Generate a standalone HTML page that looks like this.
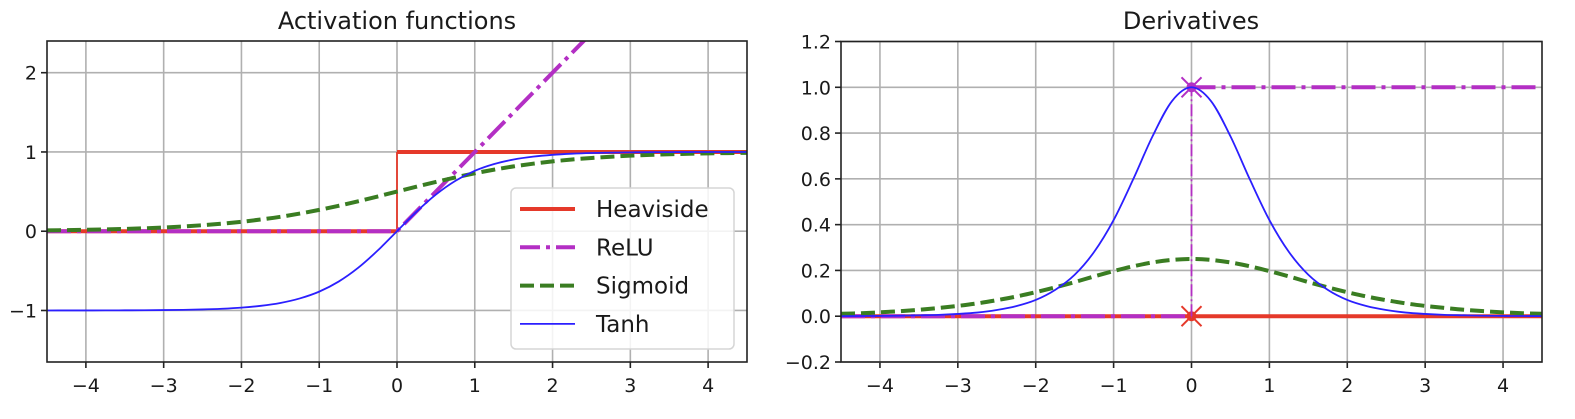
<!DOCTYPE html>
<html><head><meta charset="utf-8"><style>
html,body{margin:0;padding:0;background:#fff}
svg{display:block}
text{font-family:"DejaVu Sans","Liberation Sans",sans-serif;fill:#1a1a1a}
</style></head><body>
<svg id="fig" width="1575" height="419" viewBox="0 0 1575 419" xmlns="http://www.w3.org/2000/svg"></svg>
<script>
const xs = [-4.5,-4.25,-4,-3.75,-3.5,-3.25,-3,-2.75,-2.5,-2.25,-2,-1.75,-1.5,-1.25,-1,-0.75,-0.5,-0.25,0,0.25,0.5,0.75,1,1.25,1.5,1.75,2,2.25,2.5,2.75,3,3.25,3.5,3.75,4,4.25,4.5];
const tanhVals = [-0.9998,-0.9996,-0.9993,-0.999,-0.998,-0.997,-0.995,-0.992,-0.987,-0.978,-0.964,-0.941,-0.905,-0.848,-0.762,-0.635,-0.462,-0.245,0,0.245,0.462,0.635,0.762,0.848,0.905,0.941,0.964,0.978,0.987,0.992,0.995,0.997,0.998,0.999,0.9993,0.9996,0.9998];
const sigVals = [0.011,0.014,0.018,0.023,0.029,0.037,0.047,0.060,0.076,0.095,0.119,0.148,0.182,0.223,0.269,0.321,0.378,0.438,0.5,0.562,0.622,0.679,0.731,0.777,0.818,0.852,0.881,0.905,0.924,0.940,0.953,0.963,0.971,0.977,0.982,0.986,0.989];
const tanhDer = [0.0005,0.0008,0.0013,0.002,0.004,0.006,0.010,0.016,0.027,0.044,0.071,0.115,0.181,0.281,0.420,0.597,0.786,0.940,1,0.940,0.786,0.597,0.420,0.281,0.181,0.115,0.071,0.044,0.027,0.016,0.010,0.006,0.004,0.002,0.0013,0.0008,0.0005];
const sigDer = [0.011,0.013,0.017,0.022,0.028,0.036,0.045,0.056,0.070,0.086,0.105,0.126,0.149,0.174,0.197,0.218,0.235,0.246,0.25,0.246,0.235,0.218,0.197,0.174,0.149,0.126,0.105,0.086,0.070,0.056,0.045,0.036,0.028,0.022,0.017,0.013,0.011];
const xTicks = [-4,-3,-2,-1,0,1,2,3,4];
const yTicksL = [-1,0,1,2];
const yTicksR = [-0.2,0,0.2,0.4,0.6,0.8,1.0,1.2];
const reluX = [-4.5,0,4.5];
const reluY = [0,0,4.5];
const heaviX = [-4.5,0,0,4.5];
const heaviY = [0,0,1,1];
const legendLabels = ["Heaviside","ReLU","Sigmoid","Tanh"];

const NS="http://www.w3.org/2000/svg";
const svg=document.getElementById('fig');
const RED="#e5392a",MAG="#b32fc4",GRN="#3a7d22",BLU="#2b1fff";
function el(tag,attrs,parent){const e=document.createElementNS(NS,tag);for(const k in attrs)e.setAttribute(k,attrs[k]);(parent||svg).appendChild(e);return e;}
function minus(v,dec){let s=v.toFixed(dec);return s.replace('-','\u2212');}
function makeAxes(L,R,T,B,x0,x1,y0,y1,name){
  const sx=v=>L+(v-x0)/(x1-x0)*(R-L), sy=v=>B-(v-y0)/(y1-y0)*(B-T);
  const g=el('g',{});
  
  
  const cid='clip-'+name;
  const cp=el('clipPath',{id:cid},g);el('rect',{x:L,y:T,width:R-L,height:B-T},cp);
  return {sx,sy,g,L,R,T,B,clip:'url(#'+cid+')'};
}
function grid(ax,yt,dec,nm){
  const gg=el('g',{},ax.g);
  
  
  xTicks.forEach(t=>{const x=ax.sx(t);
    el('line',{x1:x,x2:x,y1:ax.T,y2:ax.B,stroke:'#b0b0b0','stroke-width':1.6},gg);
    el('line',{x1:x,x2:x,y1:ax.B,y2:ax.B+6,stroke:'#222','stroke-width':1.6},gg);
    const tx=el('text',{x:x,y:ax.B+30,'text-anchor':'middle','font-size':19},ax.g);
    
    
    tx.textContent=minus(t,0);});
  yt.forEach(t=>{const y=ax.sy(t);
    el('line',{x1:ax.L,x2:ax.R,y1:y,y2:y,stroke:'#b0b0b0','stroke-width':1.6},gg);
    el('line',{x1:ax.L-6,x2:ax.L,y1:y,y2:y,stroke:'#222','stroke-width':1.6},gg);
    const tx=el('text',{x:ax.L-10,y:y+7,'text-anchor':'end','font-size':19},ax.g);
    
    
    tx.textContent=minus(t,dec);});
}
function smooth(ax,X,Y){
  const p=X.map((x,i)=>[ax.sx(x),ax.sy(Y[i])]);
  let d='M'+p[0][0]+','+p[0][1];
  for(let i=0;i<p.length-1;i++){
    const a=p[Math.max(0,i-1)],b=p[i],c=p[i+1],e=p[Math.min(p.length-1,i+2)];
    const c1=[b[0]+(c[0]-a[0])/6,b[1]+(c[1]-a[1])/6],c2=[c[0]-(e[0]-b[0])/6,c[1]-(e[1]-b[1])/6];
    d+=' C'+c1+' '+c2+' '+c;
  }
  return d;
}
function poly(ax,X,Y){return X.map((x,i)=>(i?'L':'M')+ax.sx(x)+','+ax.sy(Y[i])).join(' ');}
function path(ax,d,stroke,w,dash,nm){
  const p=el('path',{d:d,fill:'none',stroke:stroke,'stroke-width':w,'clip-path':ax.clip,'stroke-linejoin':'round'},ax.g);
  if(dash)p.setAttribute('stroke-dasharray',dash);
  
  
  return p;
}
function frame(ax,title,cx){
  el('rect',{x:ax.L,y:ax.T,width:ax.R-ax.L,height:ax.B-ax.T,fill:'none',stroke:'#222','stroke-width':1.6},ax.g);
  const t=el('text',{x:cx,y:29,'text-anchor':'middle','font-size':24},ax.g);
  
  
  t.textContent=title;
}
function xmark(ax,x,y,c,nm){
  const X=ax.sx(x),Y=ax.sy(y),s=10;
  const g=el('g',{},ax.g);
  
  
  el('circle',{cx:X,cy:Y,r:5,fill:c},g);
  el('path',{d:`M${X-s},${Y-s}L${X+s},${Y+s}M${X-s},${Y+s}L${X+s},${Y-s}`,stroke:c,'stroke-width':2},g);
}
const DASH='14,6', DASHDOT='24,6,4,6';
// Left
const A=makeAxes(47,747,41,362,-4.5,4.5,-1.65,2.4,'activation-plot');
grid(A,yTicksL,0,'activation');
path(A,poly(A,heaviX.slice(0,2),heaviY.slice(0,2)),RED,4,null,'heaviside-line-left');
path(A,poly(A,heaviX.slice(1,3),heaviY.slice(1,3)),RED,1.8,null,'heaviside-step');
path(A,poly(A,heaviX.slice(2),heaviY.slice(2)),RED,4,null,'heaviside-line-right');
path(A,poly(A,reluX,reluY),MAG,4,DASHDOT,'relu-line');
path(A,smooth(A,xs,sigVals),GRN,4,DASH,'sigmoid-line');
path(A,smooth(A,xs,tanhVals),BLU,1.8,null,'tanh-line');
frame(A,'Activation functions',397);
// legend
const lg=el('g',{},A.g);


el('rect',{x:511,y:188,width:223,height:161,rx:5,fill:'#fff','fill-opacity':0.85,stroke:'#d5d5d5','stroke-width':1.5},lg);
const lc=[[RED,null,4],[MAG,DASHDOT,4],[GRN,DASH,4],[BLU,null,1.8]];
legendLabels.forEach((lab,i)=>{const y=209+i*38.3;
  const e=el('g',{},lg);
  
  
  const l=el('line',{x1:520,x2:575,y1:y,y2:y,stroke:lc[i][0],'stroke-width':lc[i][2]},e);
  if(lc[i][1])l.setAttribute('stroke-dasharray',lc[i][1]==DASH?'14,6':'20,6,4,6');
  const t=el('text',{x:596,y:y+8,'font-size':23},e);t.textContent=lab;});
// Right
const B=makeAxes(841,1542,41.5,362,-4.5,4.5,-0.2,1.2,'derivatives-plot');
grid(B,yTicksR,1,'derivatives');
path(B,poly(B,[-4.5,4.5],[0,0]),RED,4,null,'heaviside-derivative');
xmark(B,0,0,RED,'heaviside-marker');
path(B,poly(B,[-4.5,0],[0,0]),MAG,4,DASHDOT,'relu-derivative-left');
path(B,poly(B,[0,0],[0,1]),MAG,1.8,'12,3,2,3','relu-derivative-step');
path(B,poly(B,[0,4.5],[1,1]),MAG,4,DASHDOT,'relu-derivative-right');
xmark(B,0,1,MAG,'relu-marker');
path(B,smooth(B,xs,sigDer),GRN,4,DASH,'sigmoid-derivative');
path(B,smooth(B,xs,tanhDer),BLU,1.8,null,'tanh-derivative');
frame(B,'Derivatives',1191);
</script>
</body></html>
